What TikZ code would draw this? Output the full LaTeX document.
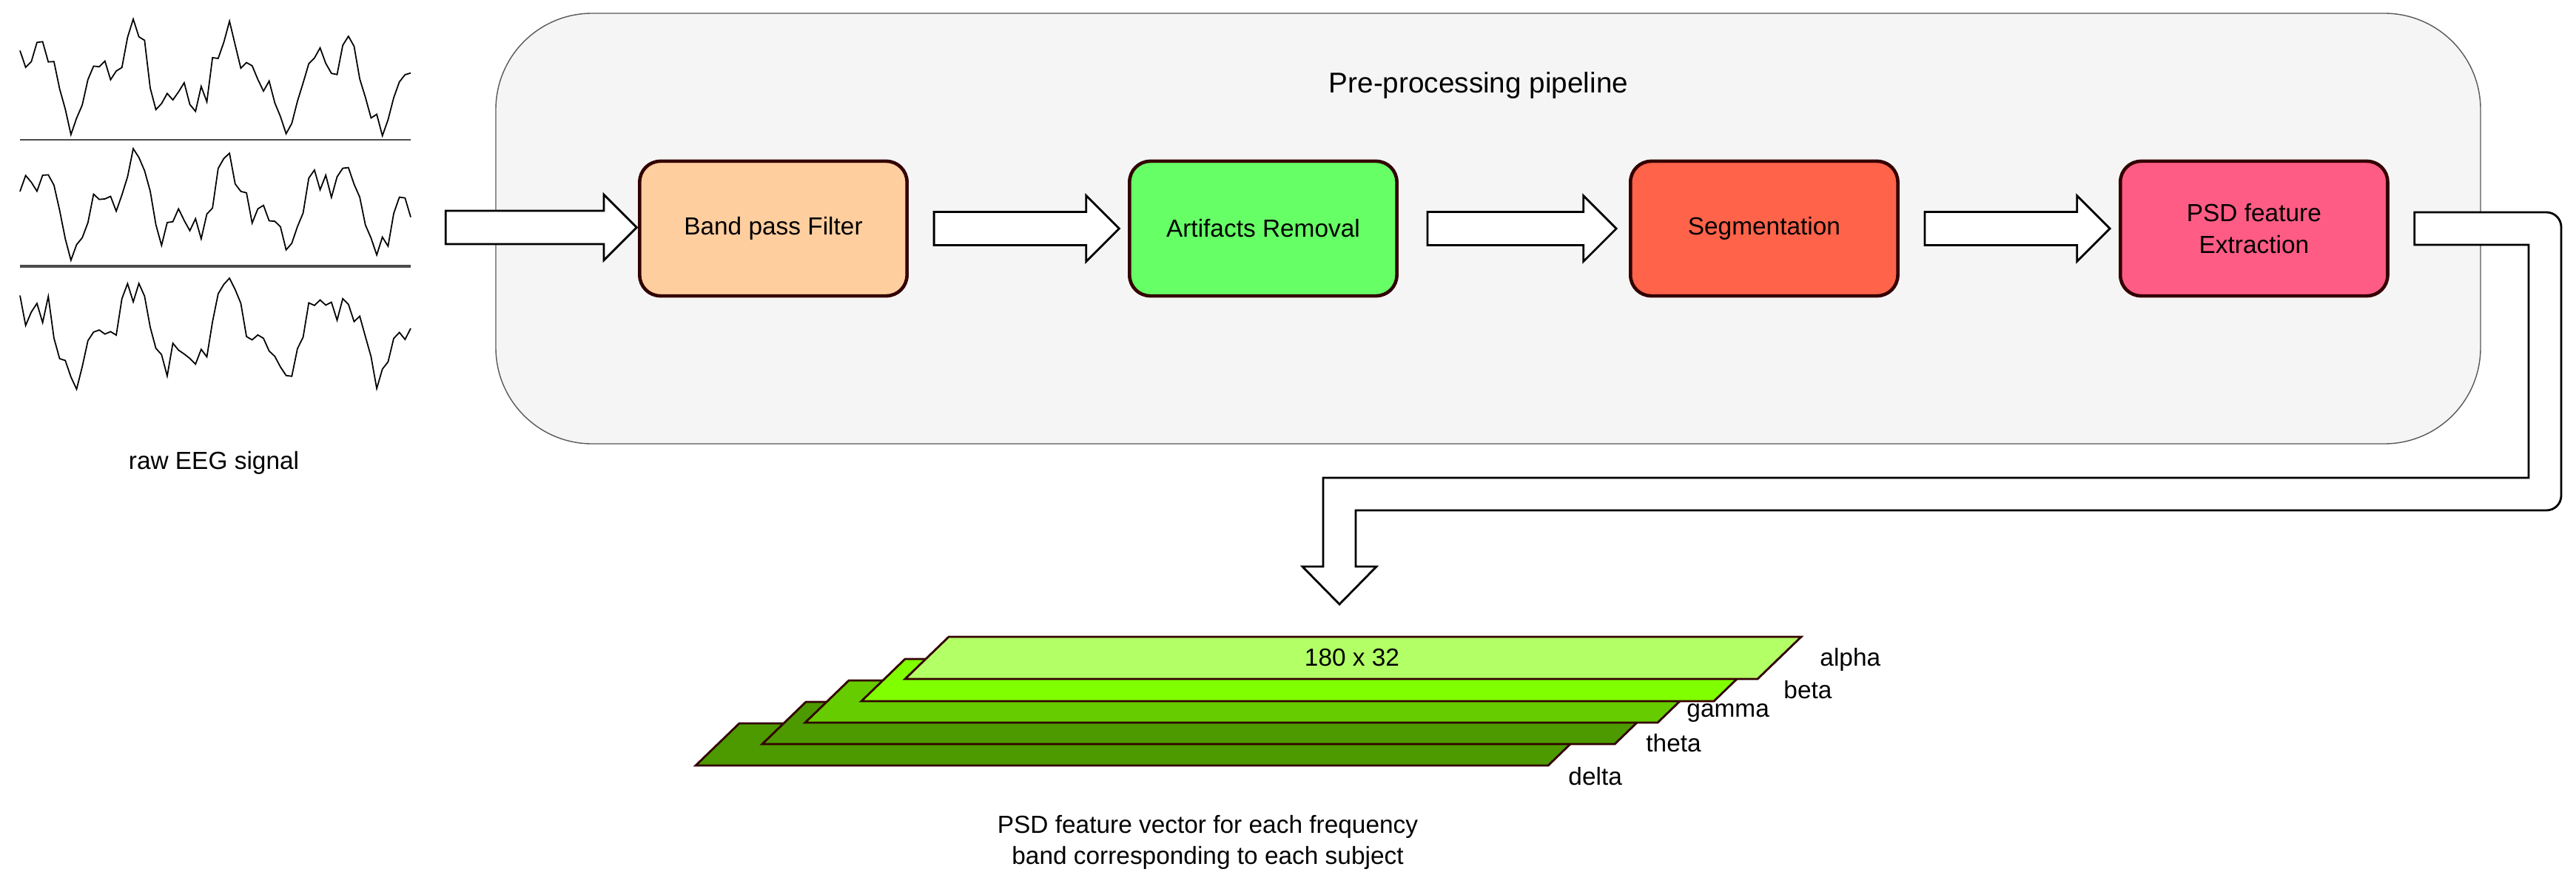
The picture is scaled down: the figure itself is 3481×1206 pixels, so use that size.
\documentclass[tikz,border=0pt]{standalone}
\usepackage{fontspec}
\setmainfont{Liberation Sans}
\usetikzlibrary{positioning,shapes.arrows,calc}
\definecolor{boxline}{HTML}{330000}
\definecolor{bandc}{HTML}{FFCE9F}
\definecolor{artc}{HTML}{66FF66}
\definecolor{segc}{HTML}{FF634A}
\definecolor{psdc}{HTML}{FF5C85}
\definecolor{alphac}{HTML}{B3FF66}
\definecolor{betac}{HTML}{80FF00}
\definecolor{gammac}{HTML}{66CC00}
\definecolor{thetac}{HTML}{4D9900}
\tikzset{
  stage/.style={draw=boxline, line width=1.3pt, rounded corners=0.28cm,
    minimum width=3.61cm, minimum height=1.82cm, align=center,
    font=\fontsize{9.5}{12}\selectfont},
  blockarrow/.style={single arrow, draw, thick, fill=white, inner sep=0pt,
    text height=0.42cm, text depth=0pt, text width=0pt,
    single arrow head extend=0.22cm, single arrow head indent=0pt},
  layer/.style={draw=boxline, thick},
  lbl/.style={font=\fontsize{9.5}{12}\selectfont}
}
\begin{document}
\begin{tikzpicture}[x=0.01cm,y=0.01cm]
\useasboundingbox (0,0) rectangle (3481,-1206);

% Raw EEG traces
\pgfmathsetseed{7}
\foreach \yc in {-105,-278,-450} {
  \draw[line width=0.5pt] plot[domain=27:555, samples=70]
    (\x, {\yc + 44*sin(2.6*\x) + 22*sin(6.1*\x+40) + 20*rand});
}
\draw[gray!60!black] (27,-189) -- (555,-189);
\draw[gray!60!black, line width=1pt] (27,-360) -- (555,-360);
\node[lbl] (raw) at (289,-626) {raw EEG signal};
\coordinate (sig) at (578,-306);

% Pre-processing container
\draw[gray!70!black, fill=gray!8, rounded corners=1.3cm] (670,-18) rectangle (3352,-600);
\node[font=\fontsize{11}{13}\selectfont] (title) at (1998,-115) {Pre-processing pipeline};

% Stages
\node[stage, fill=bandc] (bpf) at (1045,-309) {Band pass Filter};
\node[stage, fill=artc, right=2.96cm of bpf] (art) {Artifacts Removal};
\node[stage, fill=segc, right=3.11cm of art] (seg) {Segmentation};
\node[stage, fill=psdc, right=2.96cm of seg] (psd) {PSD feature\\Extraction};

% Block arrows
\path (sig) -- (bpf.west) node[midway, blockarrow, minimum height=2.58cm] {};
\path (bpf.east) -- (art.west) node[midway, blockarrow, minimum height=2.5cm] {};
\path (art.east) -- (seg.west) node[midway, blockarrow, minimum height=2.55cm] {};
\path (seg.east) -- (psd.west) node[midway, blockarrow, minimum height=2.5cm] {};

% Output connector
\draw[thick, fill=white]
  ($(psd.east)+(34,22)$) -- (3441,-287) arc[start angle=90, end angle=0, radius=20]
  -- (3461,-670) arc[start angle=0, end angle=-90, radius=20]
  -- (1832,-690) -- (1832,-766) -- (1860,-766) -- (1810,-817) coordinate (tip)
  -- (1760,-766) -- (1788,-766) -- (1788,-646) -- (3417,-646) -- (3417,-331)
  -- ($(psd.east)+(34,-22)$) -- cycle;

% Frequency band layers
\foreach \bx/\by/\col/\nm in {940/-1035/thetac/delta, 1030/-1006/thetac/theta,
    1088/-977/gammac/gamma, 1164/-948/betac/beta, 1223/-918/alphac/alpha} {
  \draw[layer, fill=\col] (\bx,\by) -- ++(1152,0) -- ++(59,57) -- ++(-1152,0) -- cycle;
}
\node[lbl] (size) at (1827,-889) {180 x 32};
\node[lbl, anchor=west] (lalpha) at (2447,-892) {alpha};
\node[lbl, anchor=west] (lbeta) at (2398,-933) {beta};
\node[lbl, anchor=west] (lgamma) at (2267,-964) {gamma};
\node[lbl, anchor=west] (ltheta) at (2212,-1005) {theta};
\node[lbl, anchor=west] (ldelta) at (2107,-1050) {delta};

\node[lbl, align=center] (cap) at (1632,-1139) {PSD feature vector for each frequency\\band corresponding to each subject};
\end{tikzpicture}
\end{document}
